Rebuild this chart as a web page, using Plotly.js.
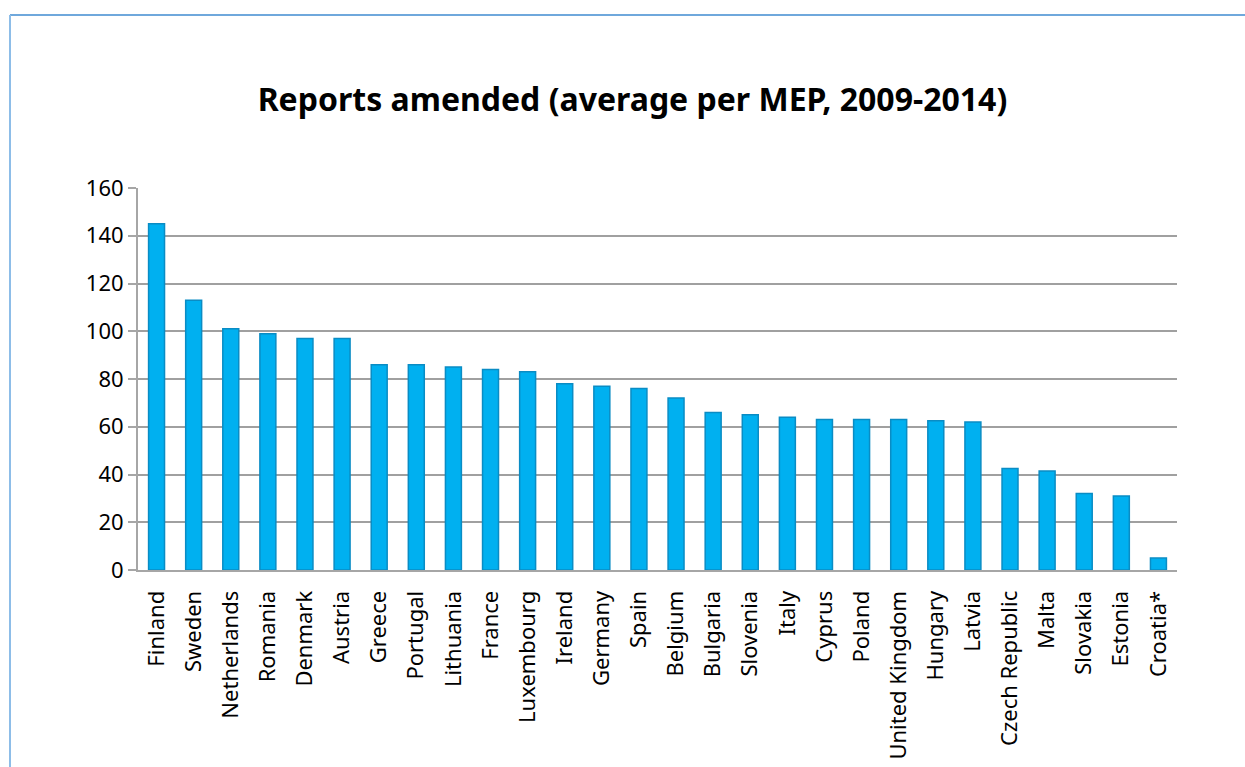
<!DOCTYPE html>
<html>
<head>
<meta charset="utf-8">
<script src="https://cdn.plot.ly/plotly-3.0.1.min.js"></script>
<style>
html,body{margin:0;padding:0;background:#fff;}
#chart{width:1245px;height:767px;}
</style>
</head>
<body>
<div id="chart"></div>
<script>
const countries = ["Finland","Sweden","Netherlands","Romania","Denmark","Austria","Greece","Portugal","Lithuania","France","Luxembourg","Ireland","Germany","Spain","Belgium","Bulgaria","Slovenia","Italy","Cyprus","Poland","United Kingdom","Hungary","Latvia","Czech Republic","Malta","Slovakia","Estonia","Croatia*"];
const reportsAmended = [145,113,101,99,97,97,86,86,85,84,83,78,77,76,72,66,65,64,63,63,63,62.5,62,42.5,41.5,32,31,5];
const yTicks = [0,20,40,60,80,100,120,140,160];
const chartTitle = "Reports amended (average per MEP, 2009-2014)";

const trace = {
  type: "bar",
  x: countries,
  y: reportsAmended,
  marker: {color: "#00B0F0", line: {color: "#0A8CC4", width: 1.5}},
  hoverinfo: "x+y"
};

const layout = {
  width: 1245,
  height: 767,
  margin: {l: 138, r: 68, t: 188, b: 197},
  paper_bgcolor: "#ffffff",
  plot_bgcolor: "#ffffff",
  bargap: 0.57,
  showlegend: false,
  font: {family: "Noto Sans, Open Sans, sans-serif", color: "#000"},
  title: {
    text: "<b>" + chartTitle + "</b>",
    font: {family: "Noto Sans, Open Sans, sans-serif", size: 32, color: "#000"},
    x: 0.508, xanchor: "center",
    y: 0.87, yanchor: "middle"
  },
  xaxis: {
    type: "category",
    tickangle: -90,
    tickfont: {size: 22, color: "#000"},
    ticklabelstandoff: 10,
    showgrid: false,
    showline: true,
    linecolor: "#A6A6A6",
    linewidth: 2,
    ticks: "",
    ticklen: 0
  },
  yaxis: {
    range: [0, 160],
    tickvals: yTicks,
    ticktext: yTicks.map(String),
    tickfont: {size: 22, color: "#000"},
    showgrid: true,
    gridcolor: "#A0A0A0",
    gridwidth: 2,
    zeroline: false,
    showline: true,
    linecolor: "#A6A6A6",
    linewidth: 2,
    ticks: "outside",
    ticklen: 8,
    tickcolor: "#A6A6A6",
    tickwidth: 2
  },
  shapes: [
    {type: "line", xref: "paper", yref: "paper", x0: -0.1232, x1: 1.1, y0: 1.4529, y1: 1.4529, line: {color: "#6FA8DC", width: 2}},
    {type: "line", xref: "paper", yref: "paper", x0: -0.1232, x1: -0.1232, y0: 1.4529, y1: -0.6, line: {color: "#8DBDE8", width: 2}}
  ]
};

Plotly.newPlot("chart", [trace], layout, {displayModeBar: false, staticPlot: true});
</script>
</body>
</html>
